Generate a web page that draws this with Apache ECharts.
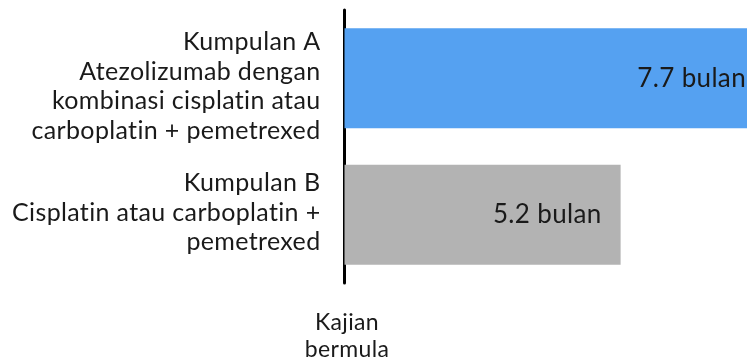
<!DOCTYPE html>
<html><head><meta charset="utf-8">
<script src="https://cdn.jsdelivr.net/npm/echarts@6/dist/echarts.min.js"></script>
<style>html,body{margin:0;padding:0;background:#fff}#c{width:747px;height:363px}</style>
</head><body><div id="c"></div>
<script>
// slight tracking (also turns off the font's ligatures, as in the reference)
(function(){
  const P = CanvasRenderingContext2D.prototype;
  if (!('letterSpacing' in P)) return;
  const f = P.fillText, m = P.measureText;
  P.fillText = function(){ this.letterSpacing = '0.35px'; return f.apply(this, arguments); };
  P.measureText = function(){ this.letterSpacing = '0.35px'; return m.apply(this, arguments); };
})();

const categories = ["Kumpulan A\nAtezolizumab dengan\nkombinasi cisplatin atau\ncarboplatin + pemetrexed",
                    "Kumpulan B\nCisplatin atau carboplatin +\npemetrexed"];
const values = [7.7, 5.2];
const valueLabels = ["7.7 bulan", "5.2 bulan"];
const barColors = ["#55A1F1", "#B3B3B3"];
const startLabel = "Kajian\nbermula";

const FONT = "Lato";
const base = {fontFamily: FONT, fontSize: 25, color: '#1a1a1a', lineHeight: 29.5, align: 'right'};
const chart = echarts.init(document.getElementById('c'), null, {renderer: 'canvas'});
chart.setOption({
  animation: false,
  grid: {left: 344.5, right: 0, top: 10, bottom: 71, containLabel: false},
  xAxis: {
    type: 'value', min: 0, max: 7.58,
    axisLine: {show: false}, axisTick: {show: false}, splitLine: {show: false},
    axisLabel: {
      show: true, margin: 26, fontFamily: FONT, fontSize: 23, color: '#1a1a1a', lineHeight: 27,
      padding: [0, 0, 0, 5],
      showMinLabel: true, showMaxLabel: false,
      formatter: v => v === 0 ? startLabel : ''
    }
  },
  yAxis: {
    type: 'category', inverse: true, data: categories,
    axisLine: {show: true, lineStyle: {color: '#000', width: 3}},
    axisTick: {show: false}, splitLine: {show: false},
    axisLabel: Object.assign({}, base, {
      margin: 24,
      formatter: (v, idx) => {
        const lines = v.split('\n').map(l => '{n|' + l + '}');
        if (idx === 0) lines.unshift('{sa| }');
        if (idx === 1) lines.push('{sb| }');
        return lines.join('\n');
      },
      rich: {
        n: Object.assign({}, base),
        sa: {fontSize: 1, lineHeight: 16},
        sb: {fontSize: 1, lineHeight: 4}
      }
    })
  },
  series: [{
    type: 'bar', barWidth: 100, clip: true,
    data: values.map((v, i) => ({
      value: v,
      itemStyle: {color: barColors[i]},
      label: {show: true, position: 'insideRight', distance: i === 0 ? 1 : 19,
              formatter: valueLabels[i], fontFamily: FONT, fontSize: 26, color: '#1a1a1a'}
    }))
  }]
});
</script></body></html>
